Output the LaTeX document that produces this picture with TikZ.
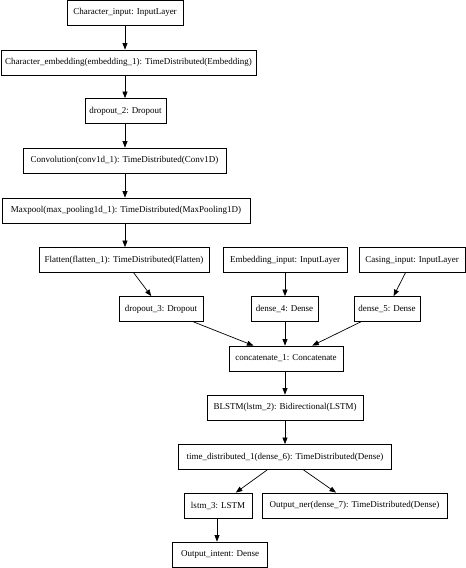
\documentclass[tikz,border=0pt]{standalone}
\usepackage{fontspec}
\setmainfont{Liberation Serif}
\usetikzlibrary{arrows.meta}

\begin{document}
\begin{tikzpicture}
[x=1pt,y=-1pt,%
  every node/.style={shape=rectangle,draw,line width=0.8pt,inner sep=0pt,minimum height=25pt},%
  flow/.style={-{Triangle[length=6.5pt,width=5pt]},line width=0.7pt}]
\fontsize{9}{11}\selectfont
\useasboundingbox (0,0) rectangle (466,568);
% character branch
\node[minimum width=116pt] (charinput) at (125,12.5) {Character\_input: InputLayer};
\node[minimum width=255pt] (charemb) at (128.5,62.5) {Character\_embedding(embedding\_1): TimeDistributed(Embedding)};
\node[minimum width=81pt] (dropout2) at (125.5,111) {dropout\_2: Dropout};
\node[minimum width=203pt] (conv1d1) at (124.5,160.5) {Convolution(conv1d\_1): TimeDistributed(Conv1D)};
\node[minimum width=248pt] (maxpool1) at (126,210.5) {Maxpool(max\_pooling1d\_1): TimeDistributed(MaxPooling1D)};
\node[minimum width=170pt] (flatten1) at (124,260) {Flatten(flatten\_1): TimeDistributed(Flatten)};
% other inputs
\node[minimum width=124pt] (embinput) at (285,260) {Embedding\_input: InputLayer};
\node[minimum width=106pt] (casinginput) at (412,260) {Casing\_input: InputLayer};
\node[minimum width=84pt] (dropout3) at (161,309) {dropout\_3: Dropout};
\node[minimum width=67pt] (dense4) at (284.5,309) {dense\_4: Dense};
\node[minimum width=66pt] (dense5) at (387,309) {dense\_5: Dense};
% merged part
\node[minimum width=114pt] (concat1) at (286,358.5) {concatenate\_1: Concatenate};
\node[minimum width=156pt] (lstm2) at (285,407.5) {BLSTM(lstm\_2): Bidirectional(LSTM)};
\node[minimum width=213pt] (timedist1) at (285,457) {time\_distributed\_1(dense\_6): TimeDistributed(Dense)};
\node[minimum width=68pt] (lstm3) at (218,505.5) {lstm\_3: LSTM};
\node[minimum width=185pt] (outner) at (354.5,505.5) {Output\_ner(dense\_7): TimeDistributed(Dense)};
\node[minimum width=95pt] (outintent) at (220,554.5) {Output\_intent: Dense};
% straight down edges
\path[flow]
(charinput.south) edge (charinput.south |- charemb.north)
(charinput.south |- charemb.south) edge (charinput.south |- dropout2.north)
(charinput.south |- dropout2.south) edge (charinput.south |- conv1d1.north)
(charinput.south |- conv1d1.south) edge (charinput.south |- maxpool1.north)
(charinput.south |- maxpool1.south) edge (charinput.south |- flatten1.north)
(embinput.south) edge (embinput.south |- dense4.north)
(embinput.south |- dense4.south) edge (embinput.south |- concat1.north)
(embinput.south |- concat1.south) edge (embinput.south |- lstm2.north)
(lstm2.south) edge (lstm2.south |- timedist1.north)
(lstm3.south -| 217,0) edge (outintent.north -| 217,0);
% slanted edges
\path[flow]
(flatten1) edge (dropout3)
(casinginput) edge (dense5)
(dropout3) edge (concat1)
(dense5) edge (concat1)
(timedist1) edge (lstm3)
(timedist1) edge (outner);
\end{tikzpicture}
\end{document}
